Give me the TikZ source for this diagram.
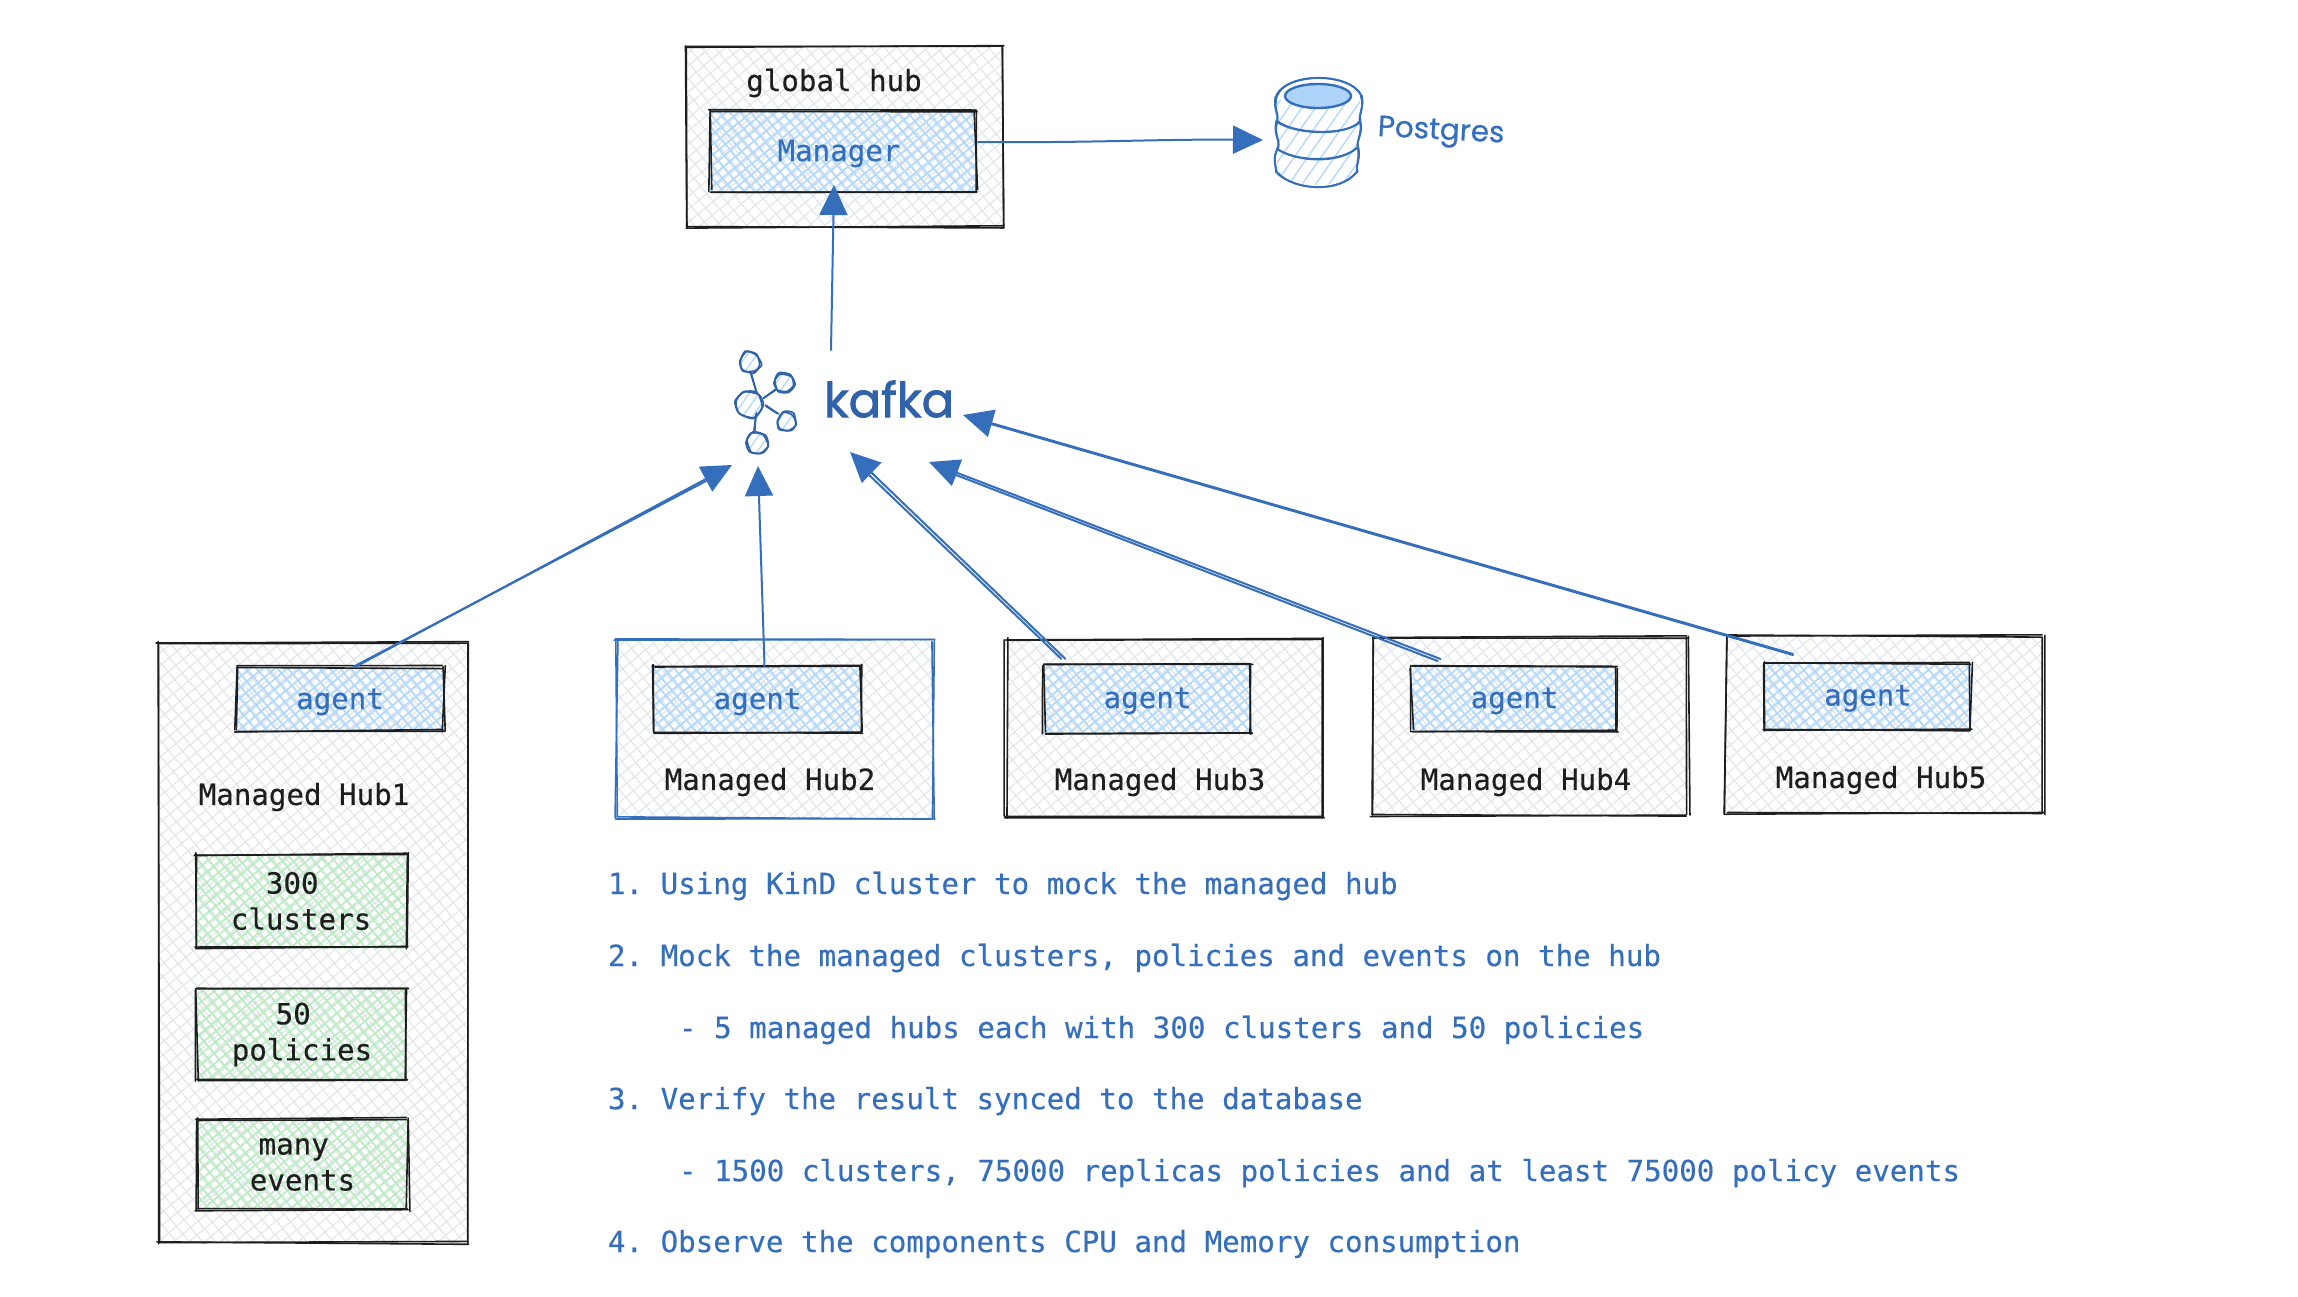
\documentclass[tikz,border=0pt]{standalone}
\usepackage{fontspec}
\setmonofont{DejaVu Sans Mono}[FakeBold=0.35]
\newfontfamily\handfont{Poppins}[FakeBold=0.6]
\newfontfamily\handbold{Poppins}[FakeBold=1.6]
\usetikzlibrary{patterns.meta,arrows.meta,calc}
\definecolor{inkblue}{HTML}{356FBC}
\definecolor{deepblue}{HTML}{2F62A8}
\definecolor{inkblack}{HTML}{1E1E1E}
\definecolor{hgrey}{HTML}{E3E7EB}
\definecolor{hblue}{HTML}{B4D9FB}
\definecolor{hgreen}{HTML}{BDEBC5}
\definecolor{dbfill}{HTML}{AFD4FA}
\tikzset{
  monotext/.style={font=\ttfamily\fontsize{29.15}{36}\selectfont,inner sep=0pt,outer sep=0pt},
  blacktext/.style={monotext,text=inkblack},
  bluetext/.style={monotext,text=inkblue},
  listline/.style={bluetext,anchor=west},
  boxbase/.style={rectangle,inner sep=0pt,outer sep=0pt,align=center},
  greyhatch/.style={boxbase,
    preaction={pattern={Lines[angle=40,distance=10pt,line width=1.2pt]},pattern color=hgrey},
    preaction={pattern={Lines[angle=-50,distance=10pt,line width=1.2pt]},pattern color=hgrey}},
  bluehatch/.style={boxbase,
    preaction={pattern={Lines[angle=40,distance=8pt,line width=1.8pt]},pattern color=hblue},
    preaction={pattern={Lines[angle=-50,distance=8pt,line width=1.8pt]},pattern color=hblue}},
  greenhatch/.style={boxbase,
    preaction={pattern={Lines[angle=40,distance=8pt,line width=1.8pt]},pattern color=hgreen},
    preaction={pattern={Lines[angle=-50,distance=8pt,line width=1.8pt]},pattern color=hgreen}},
  skline/.style={line width=1.6pt,line cap=round},
  arrowline/.style={draw=inkblue,line width=2pt,line cap=round},
  arrowhd/.style={arrowline,-{Triangle[length=30pt,width=28pt]}},
  dbline/.style={draw=inkblue,line width=1.8pt,line cap=round,line join=round},
  kline/.style={draw=deepblue,line width=1.7pt,line cap=round,line join=round},
  handlabel/.style={inner sep=0pt,outer sep=0pt},
}
\newcommand\jseg[3]{\draw[skline,#3] ([shift={({2*rand},{1.6*rand})}]#1) -- ([shift={({2*rand},{1.6*rand})}]#2);}
\newcommand\lowered[2]{\raisebox{-#1pt}[0pt][0pt]{#2}}
% name, x1, y1, x2, y2, style, stroke colour, text, text style
\newcommand\skbox[9]{%
  \node[#6,#9,minimum width={(#4-#2)*1pt},minimum height={(#5-#3)*1pt}] (#1) at ({(#2+#4)/2},{(#3+#5)/2}) {#8};
  \foreach \q in {1,2}{%
    \jseg{#1.north west}{#1.north east}{#7}
    \jseg{#1.north east}{#1.south east}{#7}
    \jseg{#1.south east}{#1.south west}{#7}
    \jseg{#1.south west}{#1.north west}{#7}
  }%
}
\newcommand\kblob[3]{%
  \fill[pattern={Lines[angle=55,distance=8pt,line width=1.3pt]},pattern color=hblue] (#1,#2) circle[radius=#3];
  \foreach \q in {1,2}{%
    \draw[kline] plot[smooth cycle,tension=.4] coordinates {
      ({#1+#3*cos(10)+1.5*rand},{#2+#3*sin(10)+1.5*rand})
      ({#1+#3*cos(70)+1.5*rand},{#2+#3*sin(70)+1.5*rand})
      ({#1+#3*cos(130)+1.5*rand},{#2+#3*sin(130)+1.5*rand})
      ({#1+#3*cos(190)+1.5*rand},{#2+#3*sin(190)+1.5*rand})
      ({#1+#3*cos(250)+1.5*rand},{#2+#3*sin(250)+1.5*rand})
      ({#1+#3*cos(310)+1.5*rand},{#2+#3*sin(310)+1.5*rand})};
  }%
}
\begin{document}
\begin{tikzpicture}[x=1pt,y=-1pt]
\pgfmathsetseed{11}
\useasboundingbox (0,0) rectangle (2298,1296);
\fill[white] (0,0) rectangle (2298,1296);

% global hub
\skbox{globalhub}{685}{47}{1003}{227}{greyhatch}{inkblack}{}{}
\node[blacktext] (globallabel) at (834,83) {global hub};
\skbox{manager}{710}{111}{976}{191}{bluehatch}{inkblack}{\hspace*{-8pt}\lowered{10}{Manager}}{bluetext}

% managed hubs
\skbox{hubone}{158}{643}{468}{1243}{greyhatch}{inkblack}{}{}
\skbox{hubtwo}{616}{640}{933}{818}{greyhatch}{inkblue}{}{}
\skbox{hubthree}{1006}{639}{1323}{817}{greyhatch}{inkblack}{}{}
\skbox{hubfour}{1372}{637}{1688}{815}{greyhatch}{inkblack}{}{}
\skbox{hubfive}{1726}{636}{2043}{814}{greyhatch}{inkblack}{}{}

\skbox{agentone}{236}{667}{444}{731}{bluehatch}{inkblack}{\lowered{10}{agent}}{bluetext}
\skbox{agenttwo}{654}{666}{861}{732}{bluehatch}{inkblack}{\lowered{10}{agent}}{bluetext}
\skbox{agentthree}{1044}{665}{1251}{733}{bluehatch}{inkblack}{\lowered{9}{agent}}{bluetext}
\skbox{agentfour}{1412}{667}{1617}{731}{bluehatch}{inkblack}{\lowered{9}{agent}}{bluetext}
\skbox{agentfive}{1765}{663}{1971}{730}{bluehatch}{inkblack}{\lowered{9}{agent}}{bluetext}

\node[blacktext] (labelone) at (304,797) {Managed Hub1};
\node[blacktext] (labeltwo) at (770,782) {Managed Hub2};
\node[blacktext] (labelthree) at (1160,782) {Managed Hub3};
\node[blacktext] (labelfour) at (1526,782) {Managed Hub4};
\node[blacktext] (labelfive) at (1881,780) {Managed Hub5};

\skbox{clusters}{195}{854}{407}{948}{greenhatch}{inkblack}{300\hphantom{0}\\clusters}{blacktext}
\skbox{policies}{197}{989}{407}{1080}{greenhatch}{inkblack}{50\hphantom{0}\\policies}{blacktext}
\skbox{events}{197}{1119}{408}{1210}{greenhatch}{inkblack}{many\hphantom{0}\\events}{blacktext}

% list
\node[listline] (lineone) at (608,886) {1. Using KinD cluster to mock the managed hub};
\node[listline] (linetwo) at (608,958) {2. Mock the managed clusters, policies and events on the hub};
\node[listline] (linethree) at (679,1030) {- 5 managed hubs each with 300 clusters and 50 policies};
\node[listline] (linefour) at (608,1101) {3. Verify the result synced to the database};
\node[listline] (linefive) at (679,1173) {- 1500 clusters, 75000 replicas policies and at least 75000 policy events};
\node[listline] (linesix) at (608,1244) {4. Observe the components CPU and Memory consumption};

% database
\node[rectangle,minimum width=85pt,minimum height=108pt,inner sep=0pt,outer sep=0pt] (db) at (1318.5,131) {};
\fill[pattern={Lines[angle=55,distance=11pt,line width=1.4pt]},pattern color=hblue]
  (1277,100) -- (1360,100) -- (1358,172) .. controls (1345,188) and (1292,190) .. (1277,172) -- cycle;
\foreach \q in {1,2}{
  \draw[dbline] ({1276+rand},{96+rand}) .. controls ({1286+rand},{72+rand}) and ({1350+rand},{72+rand}) .. ({1361+rand},{96+rand});
  \draw[dbline] ({1276+rand},{96+rand}) .. controls ({1274+rand},{110+rand}) and ({1280+rand},{115+rand}) .. ({1277+1.5*rand},{122+rand})
     .. controls ({1273+rand},{134+rand}) and ({1280+rand},{140+rand}) .. ({1277+1.5*rand},{148+rand})
     .. controls ({1273+rand},{158+rand}) and ({1276+rand},{165+rand}) .. ({1277+rand},{173+rand});
  \draw[dbline] ({1361+rand},{96+rand}) .. controls ({1364+rand},{108+rand}) and ({1358+rand},{115+rand}) .. ({1360+1.5*rand},{122+rand})
     .. controls ({1363+rand},{134+rand}) and ({1356+rand},{140+rand}) .. ({1358+1.5*rand},{148+rand})
     .. controls ({1360+rand},{158+rand}) and ({1356+rand},{165+rand}) .. ({1357+rand},{172+rand});
  \draw[dbline] ({1277+rand},{122+rand}) .. controls ({1295+2*rand},{135+2*rand}) and ({1345+2*rand},{135+2*rand}) .. ({1360+rand},{122+rand});
  \draw[dbline] ({1277+rand},{148+rand}) .. controls ({1295+2*rand},{163+2*rand}) and ({1340+2*rand},{163+2*rand}) .. ({1358+rand},{148+rand});
  \draw[dbline] ({1277+rand},{173+rand}) .. controls ({1295+2*rand},{192+2*rand}) and ({1340+2*rand},{192+2*rand}) .. ({1357+rand},{172+rand});
}
\draw[dbline,line width=2.4pt,fill=dbfill] (1318,96) ellipse[x radius=33,y radius=12];
\node[handlabel,text=inkblue,rotate=-3,font=\handfont\fontsize{29.5}{34}\selectfont] (postgres) at (1441,133) {Postgres};

% kafka icon
\foreach \q in {1,2}{
  \draw[kline] ({751+rand},{372+rand}) -- ({757+rand},{392+rand});
  \draw[kline] ({763+rand},{398+rand}) -- ({776+rand},{390+rand});
  \draw[kline] ({765+rand},{406+rand}) -- ({778+rand},{414+rand});
  \draw[kline] ({756+rand},{412+rand}) -- ({754+rand},{433+rand});
}
\kblob{749}{404}{14}
\kblob{750}{362}{11}
\kblob{784}{383}{10}
\kblob{787}{422}{10}
\kblob{757}{443}{11}
\node[handlabel,text=deepblue,font=\handbold\fontsize{48}{52}\selectfont] (kafka) at (889,399) {kafka};

% connector free ends around the kafka group
\coordinate (kafkaout) at (831,350);
\coordinate (kinone) at (732,465);
\coordinate (kintwo) at (758,466);
\coordinate (kinthree) at (850,452);
\coordinate (kinfour) at (929,462);
\coordinate (kinfive) at (963,415);

% connectors
\draw[arrowhd] ([xshift=2pt,yshift=9pt]manager.east) .. controls ($(manager.east)!.4!(db.west)$) and ($(manager.east)!.6!(db.west)$) .. ([xshift=-13pt,yshift=-9pt]db.west);
\draw[arrowhd] (kafkaout) -- ([xshift=-9pt,yshift=6pt]manager.south);
\draw[arrowhd] ([xshift=15pt]agentone.north) -- (kinone);
\draw[arrowline] ([xshift=13pt]agentone.north) -- ([xshift=-26pt,yshift=-16pt]kinone);
\draw[arrowhd] ([xshift=7pt]agenttwo.north) -- (kintwo);
\draw[arrowhd] ([xshift=-82pt,yshift=6pt]agentthree.north) -- (kinthree);
\draw[arrowline] ([xshift=-86pt,yshift=6pt]agentthree.north) -- ([xshift=18pt,yshift=-22pt]kinthree);
\draw[arrowhd] ([xshift=-74pt,yshift=8pt]agentfour.north) -- (kinfour);
\draw[arrowline] ([xshift=-77pt,yshift=6pt]agentfour.north) -- ([xshift=27pt,yshift=-13pt]kinfour);
\draw[arrowhd] ([xshift=-75pt,yshift=9pt]agentfive.north) -- (kinfive);
\draw[arrowline] ([xshift=-75pt,yshift=8pt]agentfive.north) -- ([xshift=28pt,yshift=-9pt]kinfive);
\end{tikzpicture}
\end{document}
